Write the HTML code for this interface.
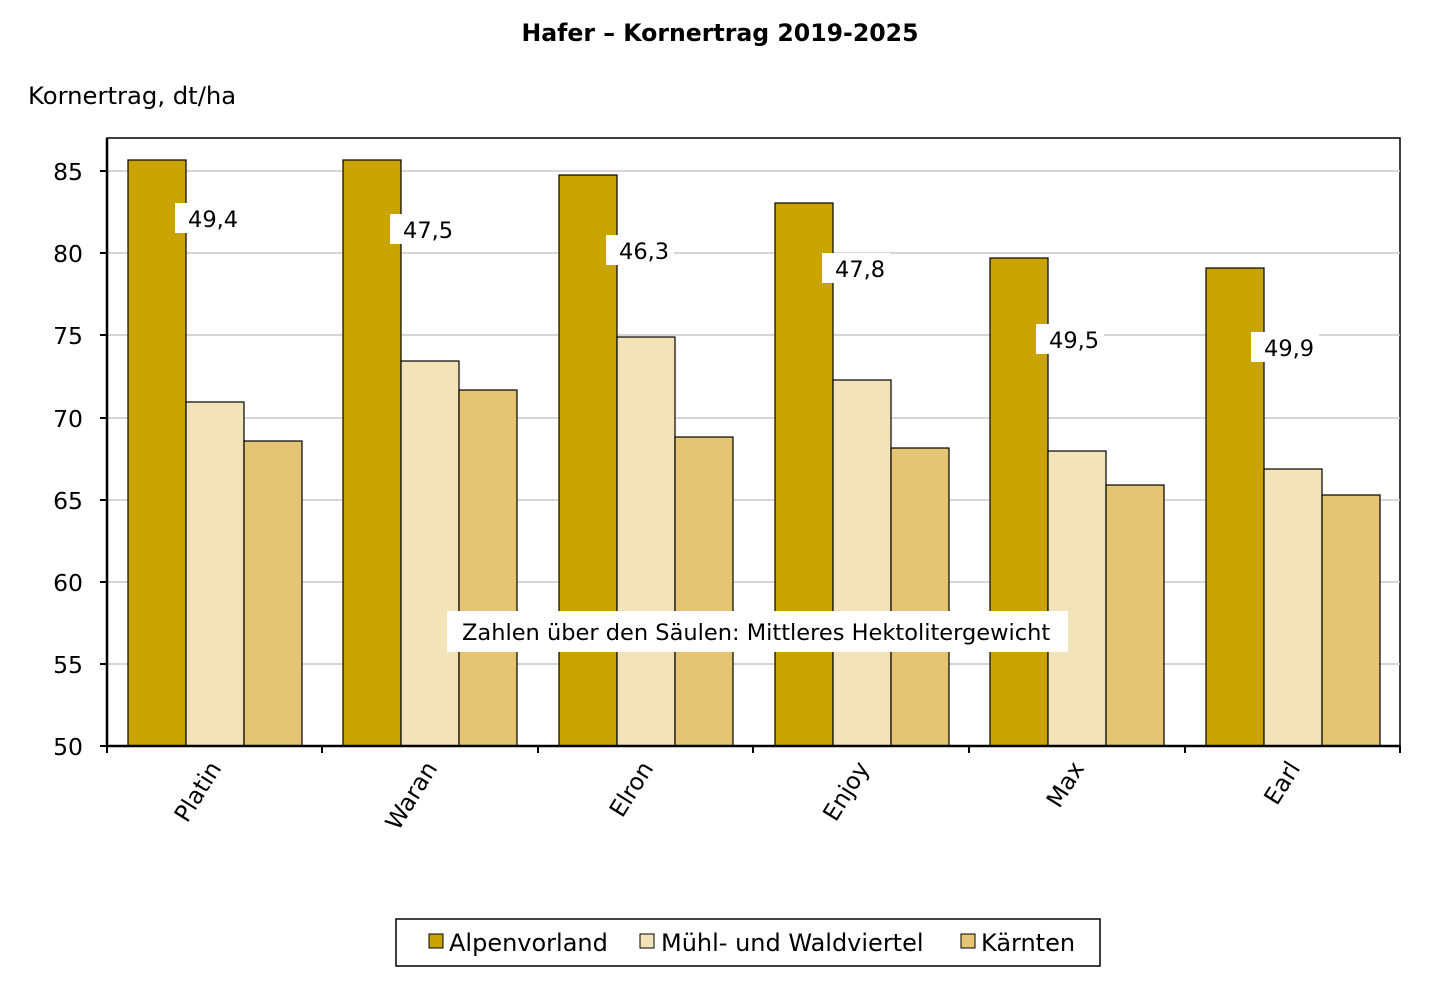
<!DOCTYPE html><html><head><meta charset="utf-8"><style>body{margin:0;background:#fff}svg{display:block;font-family:"DejaVu Sans","Liberation Sans",sans-serif}</style></head><body>
<svg width="1440" height="997" viewBox="0 0 1440 997">
<text x="720" y="41" text-anchor="middle" font-size="23.6" font-weight="bold" fill="#000">Hafer – Kornertrag 2019-2025</text>
<text x="28" y="104" font-size="24.3" fill="#000">Kornertrag, dt/ha</text>
<rect x="107" y="138" width="1293" height="608" fill="#fff" stroke="#000" stroke-width="1.5"/>
<g stroke="#c8c8c8" stroke-width="1.5">
<line x1="107" x2="1400" y1="171" y2="171"/><line x1="107" x2="1400" y1="253" y2="253"/><line x1="107" x2="1400" y1="335" y2="335"/><line x1="107" x2="1400" y1="418" y2="418"/><line x1="107" x2="1400" y1="500" y2="500"/><line x1="107" x2="1400" y1="582" y2="582"/><line x1="107" x2="1400" y1="664" y2="664"/>
</g>
<g font-size="23.5" text-anchor="end" fill="#000">
<text x="83" y="180">85</text><text x="83" y="262">80</text><text x="83" y="344">75</text><text x="83" y="427">70</text><text x="83" y="509">65</text><text x="83" y="591">60</text><text x="83" y="673">55</text><text x="83" y="755">50</text>
</g>
<g stroke="#000" stroke-width="1.2">
<rect x="128" y="160" width="58" height="586" fill="#C9A400"/><rect x="186" y="402" width="58" height="344" fill="#F2E3B8"/><rect x="244" y="441" width="58" height="305" fill="#E3C574"/>
<rect x="343" y="160" width="58" height="586" fill="#C9A400"/><rect x="401" y="361" width="58" height="385" fill="#F2E3B8"/><rect x="459" y="390" width="58" height="356" fill="#E3C574"/>
<rect x="559" y="175" width="58" height="571" fill="#C9A400"/><rect x="617" y="337" width="58" height="409" fill="#F2E3B8"/><rect x="675" y="437" width="58" height="309" fill="#E3C574"/>
<rect x="775" y="203" width="58" height="543" fill="#C9A400"/><rect x="833" y="380" width="58" height="366" fill="#F2E3B8"/><rect x="891" y="448" width="58" height="298" fill="#E3C574"/>
<rect x="990" y="258" width="58" height="488" fill="#C9A400"/><rect x="1048" y="451" width="58" height="295" fill="#F2E3B8"/><rect x="1106" y="485" width="58" height="261" fill="#E3C574"/>
<rect x="1206" y="268" width="58" height="478" fill="#C9A400"/><rect x="1264" y="469" width="58" height="277" fill="#F2E3B8"/><rect x="1322" y="495" width="58" height="251" fill="#E3C574"/>
</g>
<g stroke="#000" stroke-width="2.5">
<line x1="107" x2="1400" y1="746" y2="746"/><line x1="107" x2="107" y1="138" y2="746"/>
</g>
<g stroke="#000" stroke-width="2">
<line x1="100" x2="107" y1="171" y2="171"/><line x1="100" x2="107" y1="253" y2="253"/><line x1="100" x2="107" y1="335" y2="335"/><line x1="100" x2="107" y1="418" y2="418"/><line x1="100" x2="107" y1="500" y2="500"/><line x1="100" x2="107" y1="582" y2="582"/><line x1="100" x2="107" y1="664" y2="664"/><line x1="100" x2="107" y1="746" y2="746"/>
<line x1="107" x2="107" y1="746" y2="753"/><line x1="322" x2="322" y1="746" y2="753"/><line x1="538" x2="538" y1="746" y2="753"/><line x1="753" x2="753" y1="746" y2="753"/><line x1="969" x2="969" y1="746" y2="753"/><line x1="1185" x2="1185" y1="746" y2="753"/><line x1="1400" x2="1400" y1="746" y2="753"/>
</g>
<g fill="#fff">
<rect x="175" y="203" width="68" height="30"/><rect x="390" y="214" width="68" height="30"/><rect x="606" y="235" width="68" height="30"/><rect x="822" y="253" width="68" height="30"/><rect x="1036" y="324" width="68" height="30"/><rect x="1251" y="332" width="68" height="30"/>
<rect x="447" y="611" width="621" height="41"/>
</g>
<g font-size="22.5" fill="#000">
<text x="188" y="227">49,4</text><text x="403" y="238">47,5</text><text x="619" y="259">46,3</text><text x="835" y="277">47,8</text><text x="1049" y="348">49,5</text><text x="1264" y="356">49,9</text>
<text x="462" y="640">Zahlen über den Säulen: Mittleres Hektolitergewicht</text>
</g>
<g font-size="23.5" fill="#000" text-anchor="end">
<text transform="translate(222,768) rotate(-58)">Platin</text>
<text transform="translate(438,768) rotate(-58)">Waran</text>
<text transform="translate(654,768) rotate(-58)">Elron</text>
<text transform="translate(870,768) rotate(-58)">Enjoy</text>
<text transform="translate(1085,768) rotate(-58)">Max</text>
<text transform="translate(1301,768) rotate(-58)">Earl</text>
</g>
<rect x="396" y="919" width="704" height="47" fill="#fff" stroke="#000" stroke-width="1.5"/>
<g stroke="#000" stroke-width="1">
<rect x="429" y="934" width="14" height="14" fill="#C9A400"/><rect x="640" y="934" width="14" height="14" fill="#F2E3B8"/><rect x="961" y="934" width="14" height="14" fill="#E3C574"/>
</g>
<g font-size="24" fill="#000">
<text x="449" y="951">Alpenvorland</text><text x="661" y="951">Mühl- und Waldviertel</text><text x="981" y="951">Kärnten</text>
</g>
</svg></body></html>
